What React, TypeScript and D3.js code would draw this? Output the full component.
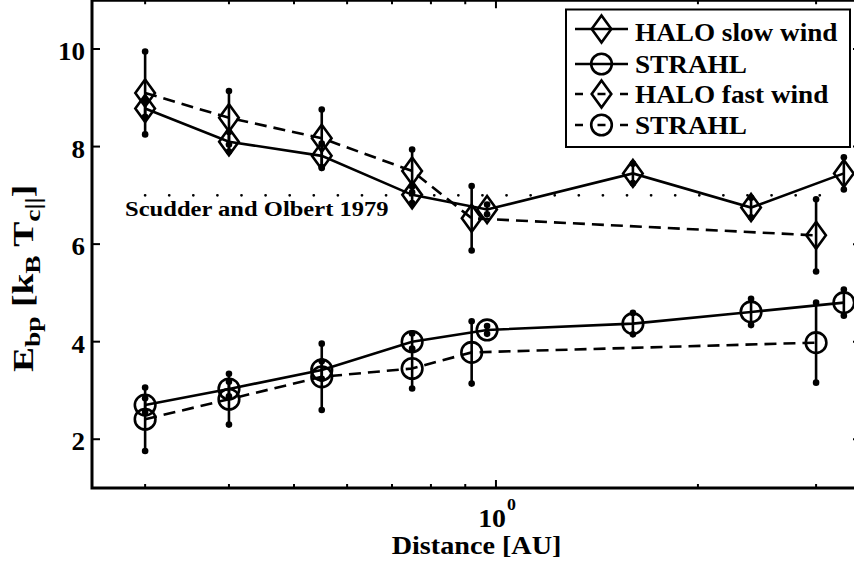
import React from 'react';
import * as d3 from 'd3';

// ---- data ----
const distSlow = [0.3, 0.4, 0.55, 0.75, 0.97, 1.6, 2.4, 3.3];
const haloSlow = [8.78, 8.10, 7.81, 7.01, 6.71, 7.45, 6.75, 7.45];
const haloSlowErr = [0.17, 0.2, 0.25, 0.17, 0.1, 0.2, 0.2, 0.33];
const strahlSlow = [2.70, 3.03, 3.42, 4.00, 4.24, 4.37, 4.61, 4.80];
const strahlSlowErr = [0.14, 0.15, 0.18, 0.17, 0.08, 0.22, 0.27, 0.27];

const distFast = [0.3, 0.4, 0.55, 0.75, 0.92, 3.0];
const haloFast = [9.10, 8.59, 8.17, 7.50, 6.53, 6.18];
const haloFastErr = [0.85, 0.55, 0.59, 0.44, 0.66, 0.74];
const strahlFast = [2.41, 2.82, 3.28, 3.45, 3.78, 3.98];
const strahlFastErr = [0.65, 0.52, 0.68, 0.41, 0.64, 0.82];

const scudderDist = [0.3, 3.3];
const scudderValue = 7;
const scudderLabel = 'Scudder and Olbert 1979';
const scudderLabelPos = [0.28, 6.57];

const yTicks = [2, 4, 6, 8, 10];
const xMajorTicks = [1];
const xMinorTicks = [0.3, 0.4, 0.5, 0.6, 0.7, 0.8, 0.9, 2, 3];
const legendLabels = ['HALO slow wind', 'STRAHL', 'HALO fast wind', 'STRAHL'];
const xLabel = 'Distance [AU]';

type Series = { x: number[]; y: number[]; e: number[]; marker: 'd' | 'o'; dashed: boolean };
const series: Series[] = [
  { x: distSlow, y: haloSlow, e: haloSlowErr, marker: 'd', dashed: false },
  { x: distSlow, y: strahlSlow, e: strahlSlowErr, marker: 'o', dashed: false },
  { x: distFast, y: haloFast, e: haloFastErr, marker: 'd', dashed: true },
  { x: distFast, y: strahlFast, e: strahlFastErr, marker: 'o', dashed: true },
];

const W = 854, H = 564;
const L = 92, R = 861, T = 0.25, B = 488;
const FONT = '"Liberation Serif", "Times New Roman", serif';
const SX = 1.15;
const LW = 2.6;
const DASH = '12,7';

const xs = d3.scaleLog().domain([0.25, 3.5]).range([L, R]);
const ys = d3.scaleLinear().domain([1, 11]).range([B, T]);

function Marker({ type, cx, cy }: { type: 'd' | 'o'; cx: number; cy: number }) {
  if (type === 'd') {
    const p = d3.path();
    p.moveTo(cx, cy - 13.5);
    p.lineTo(cx + 9.8, cy);
    p.lineTo(cx, cy + 13.5);
    p.lineTo(cx - 9.8, cy);
    p.closePath();
    return <path d={p.toString()} fill="none" stroke="#000" strokeWidth={LW} strokeLinejoin="miter" />;
  }
  return <circle cx={cx} cy={cy} r={10.3} fill="none" stroke="#000" strokeWidth={LW} />;
}

function SText({ x, y, size, anchor = 'start', children, sx = SX, rotate = 0 }: any) {
  return (
    <text
      transform={`translate(${x},${y}) rotate(${rotate}) scale(${sx},1)`}
      textAnchor={anchor}
      fontFamily={FONT}
      fontWeight="bold"
      fontSize={size}
      fill="#000"
    >
      {children}
    </text>
  );
}

export default function App() {
  const line = d3
    .line<[number, number]>()
    .x((d) => xs(d[0]))
    .y((d) => ys(d[1]));

  const legendBaseY = [41, 73, 103, 134];
  const legendMarkY = [29, 64, 94, 125];

  return (
    <svg width={W} height={H} style={{ position: 'absolute', left: 0, top: 0, background: '#fff' }}>
      <rect x={0} y={0} width={W} height={H} fill="#fff" />
      {/* Scudder & Olbert reference line */}
      <path
        d={line(scudderDist.map((d) => [d, scudderValue]) as [number, number][]) || ''}
        fill="none"
        stroke="#000"
        strokeWidth={2.8}
        strokeLinecap="round"
        strokeDasharray={`0,${(xs(scudderDist[1]) - xs(scudderDist[0])) / 29}`}
      />
      <SText x={xs(scudderLabelPos[0])} y={ys(scudderLabelPos[1])} size={21} sx={1.17}>
        {scudderLabel}
      </SText>

      {series.map((s, si) => (
        <g key={si}>
          <path
            d={line(s.x.map((d, i) => [d, s.y[i]]) as [number, number][]) || ''}
            fill="none"
            stroke="#000"
            strokeWidth={LW}
            strokeDasharray={s.dashed ? DASH : undefined}
          />
          {s.x.map((d, i) => (
            <g key={i}>
              <line x1={xs(d)} x2={xs(d)} y1={ys(s.y[i] - s.e[i])} y2={ys(s.y[i] + s.e[i])} stroke="#000" strokeWidth={LW} />
              <circle cx={xs(d)} cy={ys(s.y[i] - s.e[i])} r={3.3} fill="#000" />
              <circle cx={xs(d)} cy={ys(s.y[i] + s.e[i])} r={3.3} fill="#000" />
            </g>
          ))}
          {s.x.map((d, i) => (
            <Marker key={'m' + i} type={s.marker} cx={xs(d)} cy={ys(s.y[i])} />
          ))}
        </g>
      ))}

      {/* frame */}
      <rect x={L} y={T} width={R - L} height={B - T} fill="none" stroke="#000" strokeWidth={3} />
      {yTicks.map((t) => (
        <g key={'y' + t}>
          <line x1={L} x2={L + 8} y1={ys(t)} y2={ys(t)} stroke="#000" strokeWidth={2} />
          <line x1={R} x2={R - 8} y1={ys(t)} y2={ys(t)} stroke="#000" strokeWidth={2} />
          <SText x={85} y={ys(t) + 11} size={26} sx={1.04} anchor="end">
            {t}
          </SText>
        </g>
      ))}
      {xMajorTicks.map((t) => (
        <g key={'xM' + t}>
          <line x1={xs(t)} x2={xs(t)} y1={B} y2={B - 8} stroke="#000" strokeWidth={2} />
          <line x1={xs(t)} x2={xs(t)} y1={T} y2={T + 8} stroke="#000" strokeWidth={2} />
          <SText x={xs(t) + 10} y={527} size={26} sx={1.07} anchor="end">
            {'10'}
          </SText>
          <SText x={xs(t) + 11} y={510} size={17} sx={1.05}>
            {String(Math.round(Math.log10(t)))}
          </SText>
        </g>
      ))}
      {xMinorTicks.map((t) => (
        <g key={'xm' + t}>
          <line x1={xs(t)} x2={xs(t)} y1={B} y2={B - 4} stroke="#000" strokeWidth={2} />
          <line x1={xs(t)} x2={xs(t)} y1={T} y2={T + 4} stroke="#000" strokeWidth={2} />
        </g>
      ))}

      {/* axis labels */}
      <SText x={(L + R) / 2} y={554} size={24.5} sx={1.15} anchor="middle">
        {xLabel}
      </SText>
      <SText x={33} y={372} size={30} sx={1.25} rotate={-90}>
        <tspan>E</tspan>
        <tspan dy={7} fontSize={22}>bp</tspan>
        <tspan dy={-7}>{' [k'}</tspan>
        <tspan dy={7} fontSize={22}>B</tspan>
        <tspan dy={-7}>{' T'}</tspan>
        <tspan dy={7} fontSize={22}>{'c||'}</tspan>
        <tspan dy={-7}>{']'}</tspan>
      </SText>

      {/* legend */}
      <rect x={566} y={9.5} width={284} height={137.5} fill="#fff" stroke="#000" strokeWidth={2} />
      {series.map((s, i) => (
        <g key={'lg' + i}>
          <line
            x1={575}
            x2={628}
            y1={legendMarkY[i]}
            y2={legendMarkY[i]}
            stroke="#000"
            strokeWidth={LW}
            strokeDasharray={s.dashed ? '8,14.5' : undefined}
          />
          <Marker type={s.marker} cx={601.5} cy={legendMarkY[i]} />
          <SText x={635} y={legendBaseY[i]} size={24.5} sx={1.11}>
            {legendLabels[i]}
          </SText>
        </g>
      ))}
    </svg>
  );
}
